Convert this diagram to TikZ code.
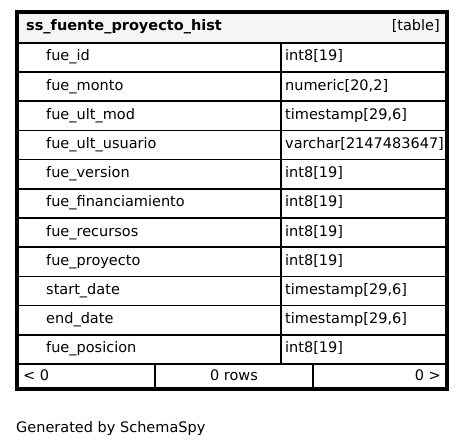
\documentclass[tikz,border=0pt]{standalone}
\usepackage{fontspec}
\setmainfont{DejaVu Sans}
\begin{document}
\begin{tikzpicture}[x=1pt,y=-1pt,
  font=\fontsize{14.5}{17}\selectfont,
  txt/.style={inner sep=0pt, anchor=base west},
  txtr/.style={inner sep=0pt, anchor=base east},
  txtc/.style={inner sep=0pt, anchor=base},
  cellline/.style={line width=1.7pt, draw=black},
  frame/.style={line width=3.8pt, draw=black}]
\useasboundingbox (0,0) rectangle (465,447);
\fill[white] (0,0) rectangle (465,447);
% header background
\fill[fill=black!4] (19,13) rectangle (446,42);
% row lines
\foreach \k in {0,...,11} {
  \draw[cellline] (19,{42.8+29.2*\k}) -- (446,{42.8+29.2*\k});
}
% column divider
\draw[cellline] (281.3,42) -- (281.3,364);
% footer dividers
\draw[cellline] (155.3,364) -- (155.3,388);
\draw[cellline] (313.3,364) -- (313.3,388);
% outer frame
\draw[frame] (17.2,11.8) rectangle (446.8,388.6);
% header texts
\node[txt, font=\fontsize{14.5}{17}\selectfont\bfseries] (title) at (26,30) {ss\_fuente\_proyecto\_hist};
\node[txtr] (kind) at (440,30) {[table]};
% rows
\foreach [count=\i] \n/\t in {
  fue\_id/int8[19],
  fue\_monto/{numeric[20,2]},
  fue\_ult\_mod/{timestamp[29,6]},
  fue\_ult\_usuario/varchar[2147483647],
  fue\_version/int8[19],
  fue\_financiamiento/int8[19],
  fue\_recursos/int8[19],
  fue\_proyecto/int8[19],
  start\_date/{timestamp[29,6]},
  end\_date/{timestamp[29,6]},
  fue\_posicion/int8[19]} {
  \node[txt] (n\i) at (46,{42.8+29.2*(\i-0.5)+3.5}) {\n};
  \node[txt] (t\i) at (285,{42.8+29.2*(\i-0.5)+3.5}) {\t};
}
% footer
\node[txt] (prev) at (23,380) {< 0};
\node[txtc] (rows) at (234,380) {0 rows};
\node[txtr] (next) at (441,380) {0 >};
% caption
\node[txt] (gen) at (16,432) {Generated by SchemaSpy};
\end{tikzpicture}
\end{document}
